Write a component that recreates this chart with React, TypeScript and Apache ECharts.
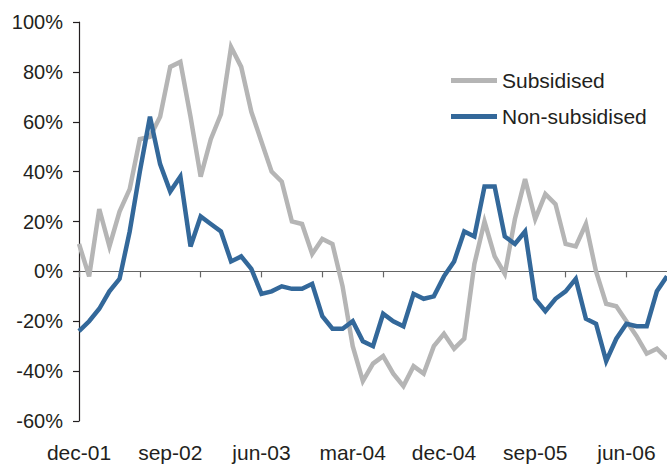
import React, { useEffect, useRef } from "react";
import * as echarts from "echarts";

const categories = [
  "dec-01",
  "jan-02", "feb-02", "mar-02", "apr-02", "may-02", "jun-02", "jul-02", "aug-02", "sep-02", "oct-02", "nov-02", "dec-02",
  "jan-03", "feb-03", "mar-03", "apr-03", "may-03", "jun-03", "jul-03", "aug-03", "sep-03", "oct-03", "nov-03", "dec-03",
  "jan-04", "feb-04", "mar-04", "apr-04", "may-04", "jun-04", "jul-04", "aug-04", "sep-04", "oct-04", "nov-04", "dec-04",
  "jan-05", "feb-05", "mar-05", "apr-05", "may-05", "jun-05", "jul-05", "aug-05", "sep-05", "oct-05", "nov-05", "dec-05",
  "jan-06", "feb-06", "mar-06", "apr-06", "may-06", "jun-06", "jul-06", "aug-06", "sep-06", "oct-06",
];

const subsidised = [
  11, -2, 25, 10, 24, 33, 53, 54, 62, 82, 84, 62, 38,
  53, 63, 90, 82, 64, 52, 40, 36, 20, 19, 7, 13,
  11, -6, -30, -44, -37, -34, -41, -46, -38, -41, -30, -25,
  -31, -27, 3, 20, 6, -1, 21, 37, 21, 31, 27, 11,
  10, 19, 0, -13, -14, -20, -26, -33, -31, -35,
];

const nonSubsidised = [
  -24, -20, -15, -8, -3, 16, 40, 62, 43, 32, 38, 10, 22,
  19, 16, 4, 6, 1, -9, -8, -6, -7, -7, -5, -18,
  -23, -23, -20, -28, -30, -17, -20, -22, -9, -11, -10, -2,
  4, 16, 14, 34, 34, 14, 11, 16, -11, -16, -11, -8,
  -3, -19, -21, -36, -27, -21, -22, -22, -8, -2,
];

const seriesNames = ["Subsidised", "Non-subsidised"];
const seriesColors = ["#b5b5b5", "#33689a"];

const FONT = "'Liberation Sans', Arial, Helvetica, sans-serif";
const TEXT = "#231f20";

export default function App() {
  const ref = useRef<HTMLDivElement>(null);

  useEffect(() => {
    if (!ref.current) return;
    const chart = echarts.init(ref.current, undefined, { renderer: "svg" });
    chart.setOption({
      animation: false,
      backgroundColor: "#ffffff",
      textStyle: { fontFamily: FONT },
      grid: { left: 79, right: 0, top: 22, bottom: 43, containLabel: false },
      legend: {
        orient: "vertical",
        left: 446,
        top: 65,
        itemWidth: 46,
        itemHeight: 5,
        itemGap: 15,
        icon: "rect",
        data: seriesNames,
        textStyle: { fontSize: 21, color: TEXT, fontFamily: FONT },
      },
      xAxis: [
        {
          type: "category",
          data: categories,
          boundaryGap: false,
          position: "bottom",
          axisLine: { show: true, onZero: true, lineStyle: { color: "#666666", width: 1.2 } },
          axisTick: { show: true, interval: 5, length: 6, lineStyle: { color: "#666666", width: 1.2 } },
          axisLabel: { show: false },
          splitLine: { show: false },
        },
        {
          type: "category",
          data: categories,
          boundaryGap: false,
          position: "bottom",
          axisLine: { show: false, onZero: false },
          axisTick: { show: false },
          axisLabel: {
            show: true,
            interval: 8,
            margin: 21,
            fontSize: 21,
            color: TEXT,
            fontFamily: FONT,
          },
          splitLine: { show: false },
        },
      ],
      yAxis: {
        type: "value",
        min: -60,
        max: 100,
        interval: 20,
        axisLine: { show: true, lineStyle: { color: TEXT, width: 1.2 } },
        axisTick: { show: true, length: 6, lineStyle: { color: TEXT, width: 1.2 } },
        axisLabel: {
          formatter: "{value}%",
          fontSize: 20,
          color: TEXT,
          margin: 16,
          fontFamily: FONT,
        },
        splitLine: { show: false },
      },
      series: [
        {
          name: seriesNames[0],
          type: "line",
          xAxisIndex: 0,
          data: subsidised,
          symbol: "none",
          color: seriesColors[0],
          lineStyle: { color: seriesColors[0], width: 4.5, join: "miter" },
        },
        {
          name: seriesNames[1],
          type: "line",
          xAxisIndex: 0,
          data: nonSubsidised,
          symbol: "none",
          color: seriesColors[1],
          lineStyle: { color: seriesColors[1], width: 4.5, join: "miter" },
        },
      ],
    });
    return () => chart.dispose();
  }, []);

  return (
    <div
      ref={ref}
      style={{ position: "fixed", left: 0, top: 0, width: 667, height: 464 }}
    />
  );
}
